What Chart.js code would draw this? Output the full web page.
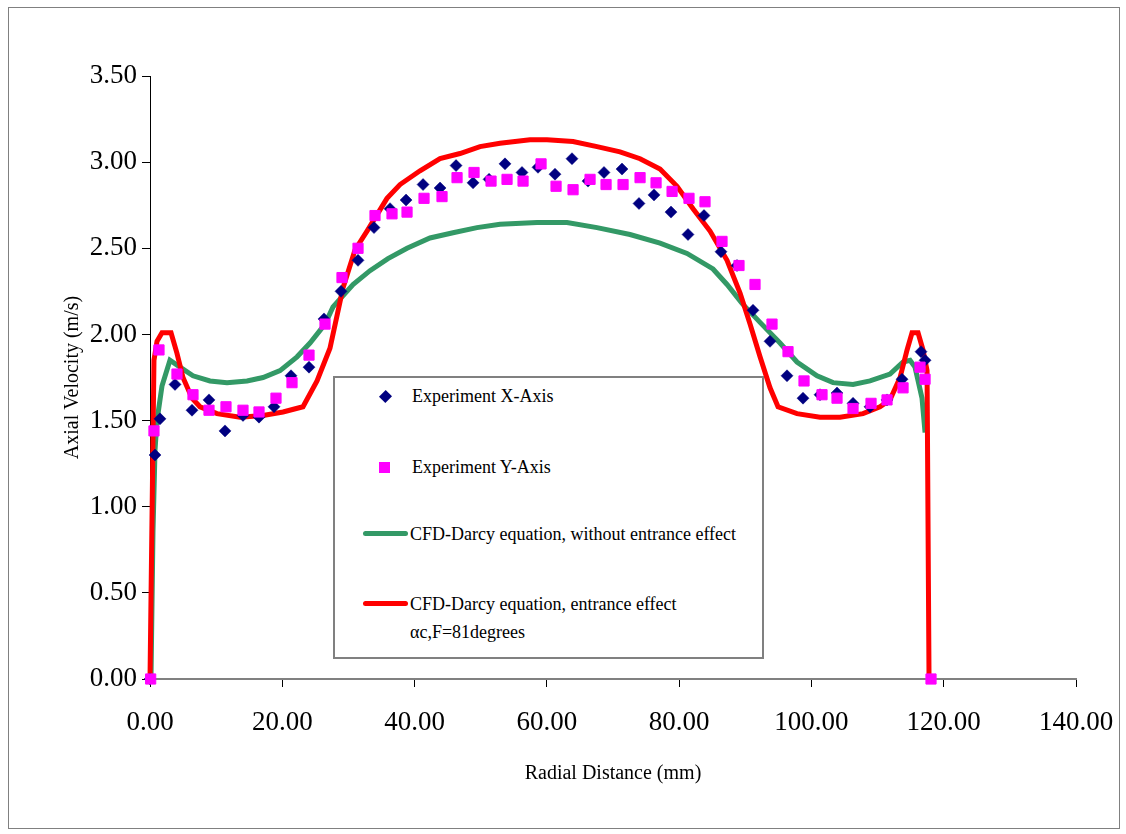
<!DOCTYPE html>
<html>
<head>
<meta charset="utf-8">
<script src="https://cdn.jsdelivr.net/npm/chart.js@4/dist/chart.umd.min.js"></script>
<style>
  body { margin: 0; background: #fff; }
  #wrap { position: relative; width: 1126px; height: 834px; }
  #frame { position: absolute; left: 8px; top: 7px; width: 1110px; height: 820px; border: 1px solid #808080; pointer-events: none; }
  #legend { position: absolute; left: 333px; top: 376px; width: 427px; height: 279px; border: 2px solid #808080; background: #fff; }
  .lg { position: absolute; font-family: "Liberation Serif", "Times New Roman", serif; font-size: 18px; line-height: 20px; color: #000; white-space: nowrap; }
  .mk { position: absolute; }
</style>
</head>
<body>
<div id="wrap">
  <canvas id="chart" width="1126" height="834"></canvas>
  <div id="frame"></div>
  <div id="legend"></div>
</div>
<script>
// experiment, x-axis traverse (diamonds)
const expXdist = [0.00, 0.76, 1.51, 3.78, 6.35, 8.92, 11.34, 14.06, 16.48, 18.75, 21.32, 24.04, 26.31, 28.88, 31.45, 33.87, 36.29, 38.71, 41.28, 43.85, 46.27, 48.84, 51.26, 53.67, 56.24, 58.66, 61.23, 63.80, 66.22, 68.64, 71.36, 73.93, 76.20, 78.77, 81.34, 83.76, 86.33, 88.75, 91.17, 93.74, 96.31, 98.73, 101.30, 103.87, 106.29, 108.86, 111.43, 113.70, 116.57, 117.18];
const expXvel = [0.00, 1.30, 1.51, 1.71, 1.56, 1.62, 1.44, 1.53, 1.52, 1.58, 1.76, 1.81, 2.09, 2.25, 2.43, 2.62, 2.73, 2.78, 2.87, 2.85, 2.98, 2.88, 2.90, 2.99, 2.94, 2.97, 2.93, 3.02, 2.89, 2.94, 2.96, 2.76, 2.81, 2.71, 2.58, 2.69, 2.48, 2.40, 2.14, 1.96, 1.76, 1.63, 1.65, 1.66, 1.60, 1.58, 1.62, 1.74, 1.90, 1.85];

// experiment, y-axis traverse (squares)
const expYdist = [0.10, 0.60, 1.36, 4.08, 6.50, 8.92, 11.49, 14.06, 16.48, 19.05, 21.47, 24.04, 26.46, 29.03, 31.45, 34.02, 36.59, 38.86, 41.43, 44.15, 46.42, 48.99, 51.56, 53.98, 56.40, 59.12, 61.39, 63.96, 66.53, 68.95, 71.52, 74.09, 76.51, 78.93, 81.49, 83.91, 86.48, 89.05, 91.47, 94.04, 96.46, 98.88, 101.60, 103.87, 106.29, 109.01, 111.43, 113.85, 116.42, 117.18, 118.08];
const expYvel = [0.00, 1.44, 1.91, 1.77, 1.65, 1.56, 1.58, 1.56, 1.55, 1.63, 1.72, 1.88, 2.06, 2.33, 2.50, 2.69, 2.70, 2.71, 2.79, 2.80, 2.91, 2.94, 2.89, 2.90, 2.89, 2.99, 2.86, 2.84, 2.90, 2.87, 2.87, 2.91, 2.88, 2.83, 2.79, 2.77, 2.54, 2.40, 2.29, 2.06, 1.90, 1.73, 1.65, 1.63, 1.57, 1.60, 1.62, 1.69, 1.81, 1.74, 0.00];

// CFD without entrance effect (green)
const cfdDist = [0.15, 0.45, 0.76, 1.06, 1.81, 3.02, 4.54, 6.50, 9.07, 11.64, 14.67, 17.09, 19.66, 22.23, 24.19, 26.46, 27.67, 30.69, 33.26, 35.98, 38.86, 42.33, 45.81, 49.44, 52.92, 58.51, 63.05, 67.58, 72.57, 77.11, 81.19, 85.12, 87.24, 89.51, 92.23, 95.25, 97.82, 100.85, 103.27, 106.29, 108.86, 111.88, 113.85, 114.91, 115.66, 116.72, 117.18];
const cfdVel = [0.00, 0.85, 1.33, 1.50, 1.70, 1.85, 1.81, 1.76, 1.73, 1.72, 1.73, 1.75, 1.79, 1.87, 1.95, 2.06, 2.16, 2.29, 2.37, 2.44, 2.50, 2.56, 2.59, 2.62, 2.64, 2.65, 2.65, 2.62, 2.58, 2.53, 2.47, 2.38, 2.29, 2.18, 2.07, 1.95, 1.84, 1.76, 1.72, 1.71, 1.73, 1.77, 1.84, 1.85, 1.81, 1.63, 1.43];

// CFD with entrance effect (red)
const entDist = [0.00, 0.60, 1.06, 1.81, 3.18, 4.08, 4.99, 6.35, 7.56, 10.13, 13.61, 17.09, 20.11, 23.13, 25.25, 27.21, 29.18, 30.99, 32.81, 35.83, 37.80, 40.82, 43.85, 46.87, 49.89, 52.92, 57.45, 60.02, 63.96, 67.58, 71.06, 74.09, 77.11, 79.68, 82.10, 84.67, 87.24, 89.21, 90.72, 92.23, 93.74, 94.95, 97.82, 101.30, 104.32, 107.80, 110.37, 111.88, 113.40, 114.46, 115.21, 116.12, 116.87, 117.48, 117.78];
const entVel = [0.00, 1.85, 1.96, 2.01, 2.01, 1.89, 1.75, 1.63, 1.58, 1.54, 1.52, 1.53, 1.55, 1.58, 1.73, 1.92, 2.27, 2.49, 2.60, 2.79, 2.87, 2.95, 3.02, 3.05, 3.09, 3.11, 3.13, 3.13, 3.12, 3.09, 3.06, 3.02, 2.96, 2.86, 2.73, 2.60, 2.43, 2.24, 2.06, 1.87, 1.69, 1.58, 1.54, 1.52, 1.52, 1.54, 1.58, 1.62, 1.75, 1.91, 2.01, 2.01, 1.91, 1.79, 0.00];

const serif = '"Liberation Serif", "Times New Roman", serif';

function pts(xs, ys) {
    return xs.map((x, i) => ({ x: x, y: ys[i] }));
}

new Chart(document.getElementById('chart'), {
    type: 'scatter',
    data: {
        datasets: [{
            label: 'Experiment Y-Axis',
            data: pts(expYdist, expYvel),
            pointStyle: 'rect',
            pointRadius: 7.2,
            pointBackgroundColor: '#FF00FF',
            pointBorderColor: '#FF00FF',
            pointBorderWidth: 1,
            clip: false,
            order: 0
        }, {
            label: 'Experiment X-Axis',
            data: pts(expXdist, expXvel),
            pointStyle: 'rectRot',
            pointRadius: 6,
            pointBackgroundColor: '#000080',
            pointBorderColor: '#000080',
            pointBorderWidth: 0.5,
            clip: false,
            order: 1
        }, {
            label: 'CFD-Darcy equation, entrance effect',
            data: pts(entDist, entVel),
            showLine: true,
            borderColor: '#FF0000',
            borderWidth: 5,
            pointRadius: 0,
            tension: 0,
            clip: false,
            order: 2
        }, {
            label: 'CFD-Darcy equation, without entrance effect',
            data: pts(cfdDist, cfdVel),
            showLine: true,
            borderColor: '#339966',
            borderWidth: 5,
            pointRadius: 0,
            tension: 0,
            clip: false,
            order: 3
        }]
    },
    options: {
        responsive: false,
        devicePixelRatio: 1,
        animation: false,
        layout: { padding: { left: 61, top: 76, right: 50, bottom: 48 } },
        plugins: { legend: { display: false }, tooltip: { enabled: false } },
        scales: {
            x: {
                type: 'linear',
                min: 0, max: 140,
                afterFit: (s) => { s.height = 107; s.paddingLeft = 0; s.paddingRight = 0; },
                ticks: {
                    stepSize: 20,
                    padding: 20,
                    color: '#000',
                    font: { family: serif, size: 27 },
                    callback: (v) => v.toFixed(2)
                },
                grid: { drawOnChartArea: false, tickLength: 8, tickColor: '#000', lineWidth: 1 },
                border: { display: true, color: '#808080', width: 2 },
                title: {
                    display: true,
                    text: 'Radial Distance (mm)',
                    color: '#000',
                    padding: 0,
                    font: { family: serif, size: 20 }
                }
            },
            y: {
                min: 0, max: 3.5,
                afterFit: (s) => { s.width = 89; },
                ticks: {
                    stepSize: 0.5,
                    padding: 5,
                    color: '#000',
                    font: { family: serif, size: 27 },
                    callback: (v) => v.toFixed(2)
                },
                grid: { drawOnChartArea: false, tickLength: 8, tickColor: '#000', lineWidth: 1 },
                border: { display: true, color: '#000', width: 1 },
                title: {
                    display: true,
                    text: 'Axial Velocity (m/s)',
                    color: '#000',
                    padding: 0,
                    font: { family: serif, size: 20 }
                }
            }
        }
    }
});

// legend box sitting inside the plot, like the original
const legend = document.getElementById('legend');
const ox = 335, oy = 378; // inner origin of the legend box (page coords)

function addText(txt, x, cy) {
    const el = document.createElement('div');
    el.className = 'lg';
    el.textContent = txt;
    el.style.left = (x - ox) + 'px';
    el.style.top = (cy - 10 - oy) + 'px';
    legend.appendChild(el);
}

function addMark(css) {
    const el = document.createElement('div');
    el.className = 'mk';
    Object.assign(el.style, css);
    legend.appendChild(el);
}

// diamond
addMark({ left: (385 - 4.5 - ox) + 'px', top: (396 - 4.5 - oy) + 'px', width: '9px', height: '9px', background: '#000080', transform: 'rotate(45deg) scaleY(1.05)' });
addText('Experiment X-Axis', 412, 396);
// square
addMark({ left: (384 - 5.5 - ox) + 'px', top: (467 - 5.5 - oy) + 'px', width: '11px', height: '11px', background: '#FF00FF' });
addText('Experiment Y-Axis', 412, 467);
// green line
addMark({ left: (363 - ox) + 'px', top: (533 - 2.5 - oy) + 'px', width: '45px', height: '5px', background: '#339966', borderRadius: '2.5px' });
addText('CFD-Darcy equation, without entrance effect', 410, 534);
// red line
addMark({ left: (363 - ox) + 'px', top: (603 - 2.5 - oy) + 'px', width: '45px', height: '5px', background: '#FF0000', borderRadius: '2.5px' });
addText('CFD-Darcy equation, entrance effect', 410, 604);
addText('αc,F=81degrees', 410, 632);
</script>
</body>
</html>
